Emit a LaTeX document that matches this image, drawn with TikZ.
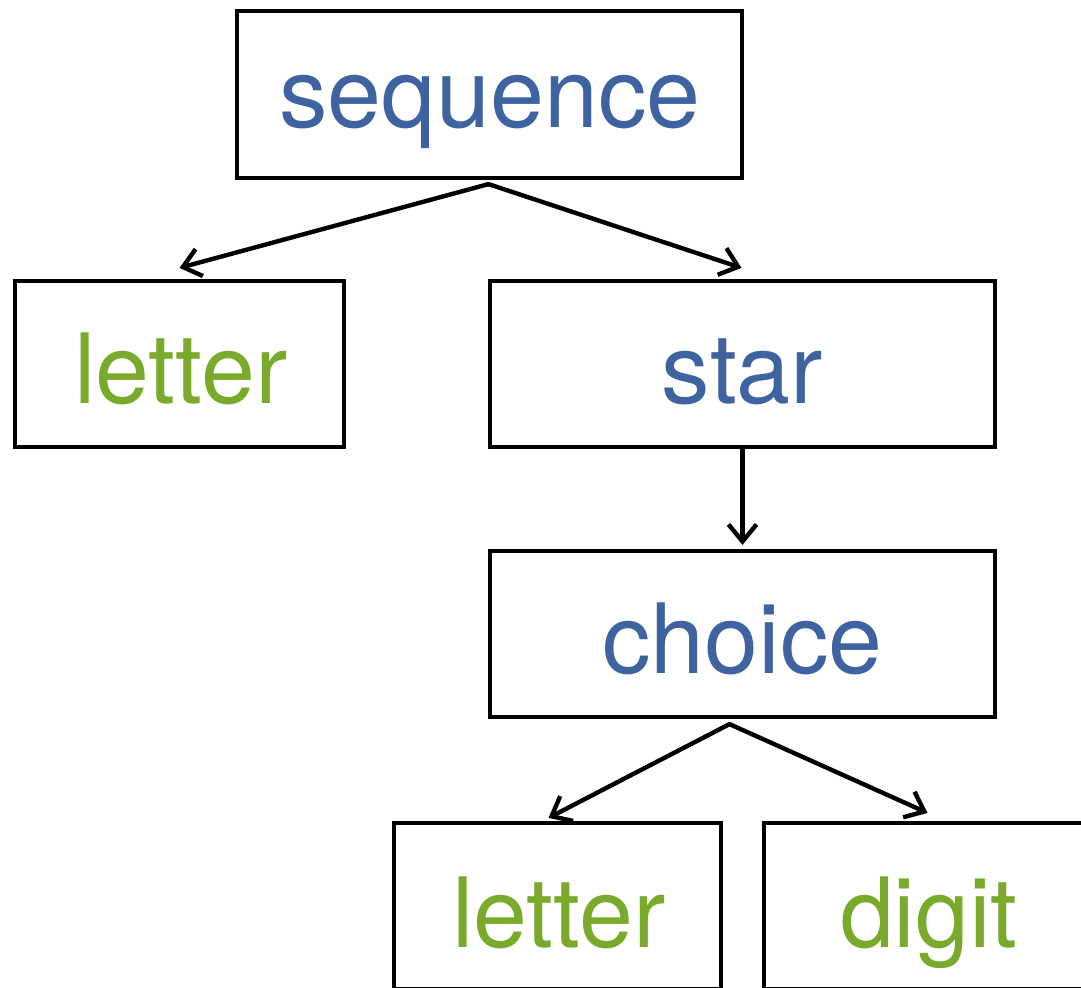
\documentclass[tikz,border=0pt]{standalone}
\usepackage{fontspec}
\setmainfont{TeX Gyre Heros}
\usetikzlibrary{arrows.meta,calc}
\definecolor{ruleblue}{RGB}{62,99,160}
\definecolor{termgreen}{RGB}{122,170,44}
\tikzset{
  treebox/.style={draw=black, line width=2.1pt, rectangle, inner sep=0pt,
    minimum width=#1, minimum height=83pt},
  rulename/.style={anchor=base, inner sep=0pt, text=ruleblue,
    font=\fontsize{48.5}{56}\selectfont},
  termname/.style={anchor=base, inner sep=0pt, text=termgreen,
    font=\fontsize{48.5}{56}\selectfont},
  edge/.style={line width=2.2pt, line cap=round,
    -{Straight Barb[length=8.5pt, width=14pt, line width=2.2pt]}},
}
\begin{document}
\begin{tikzpicture}[x=0.5pt, y=-0.5pt]
  \useasboundingbox (0,0) rectangle (1081,987);
  \clip (0,0) rectangle (1081,987);

  % boxes of the parse tree (sizes in half points)
  \node[treebox=252.5pt, minimum height=83.5pt] (seq) at (489.5,94.5) {};
  \node[treebox=164.5pt] (lone) at (179.5,364) {};
  \node[treebox=252.5pt] (star) at (742.5,364) {};
  \node[treebox=252.5pt] (choice) at (742.5,634) {};
  \node[treebox=163.5pt] (ltwo) at (557.5,906) {};
  \node[treebox=163.5pt] (digit) at (927.5,906) {};

  % labels
  \node[rulename] (seqt) at (490,127) {sequence};
  \node[termname] (lonet) at (181,403) {letter};
  \node[rulename] (start) at (742.5,403) {star};
  \node[rulename] (choicet) at (742.5,673) {choice};
  \node[termname] (ltwot) at (559,947) {letter};
  \node[termname] (digitt) at (929,947) {digit};

  % arrow ends
  \coordinate (seqout) at ($(seq.south)+(-1,4)$);
  \coordinate (chout) at ($(choice.south)+(-13,5)$);
  \coordinate (lonein) at ($(lone.north)+(0,-11)$);
  \coordinate (starin) at ($(star.north)+(-1,-11)$);
  \coordinate (ltwoin) at ($(ltwo.north)+(-9,-3)$);
  \coordinate (digitin) at ($(digit.north)+(0,-8)$);

  % connectors
  \draw[edge] (seqout) -- (lonein);
  \draw[edge] (seqout) -- (starin);
  \draw[edge, shorten >=2pt] (star.south) -- (choice.north);
  \draw[edge] (chout) -- (ltwoin);
  \draw[edge] (chout) -- (digitin);
\end{tikzpicture}
\end{document}
